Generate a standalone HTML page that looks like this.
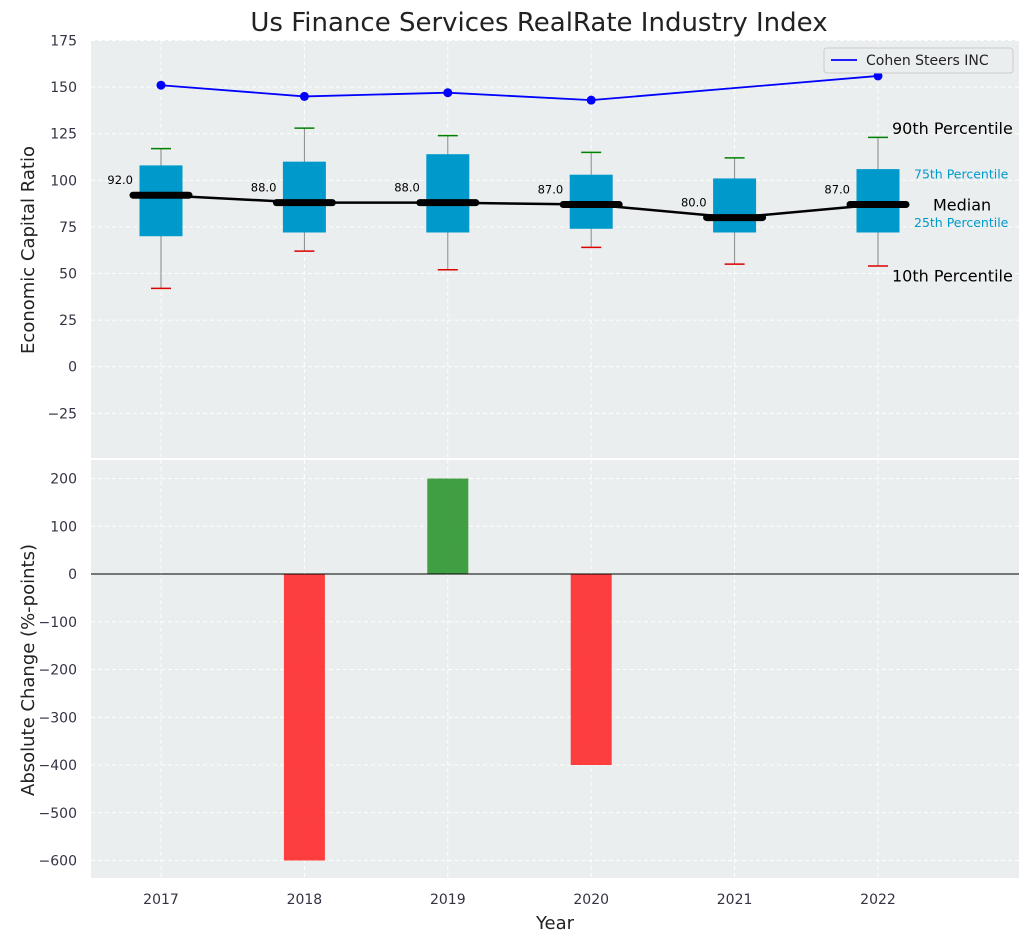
<!DOCTYPE html>
<html><head><meta charset="utf-8"><style>
body{margin:0;background:#fff;font-family:"Liberation Sans","DejaVu Sans",sans-serif}
svg text{font-family:"DejaVu Sans","Liberation Sans",sans-serif}
</style></head><body>
<svg id="c" width="1029" height="942" xmlns="http://www.w3.org/2000/svg"></svg>
<script>
const years=[2017,2018,2019,2020,2021,2022];
const cohen=[151,145,147,143,null,156];
const p10=[42,62,52,64,55,54];
const q1=[70,72,72,74,72,72];
const med=[92,88,88,87,80,87];
const q3=[108,110,114,103,101,106];
const p90=[117,128,124,115,112,123];
const changes=[0,-600,200,-400,0,0];
const topTicks=[-25,0,25,50,75,100,125,150,175];
const botTicks=[-600,-500,-400,-300,-200,-100,0,100,200];

const NS="http://www.w3.org/2000/svg";
const svg=document.getElementById('c');
function el(t,a,p){const e=document.createElementNS(NS,t);for(const k in a)e.setAttribute(k,a[k]);(p||svg).appendChild(e);return e;}
const X=v=>161+(v-2017)*143.4;
const YT=v=>366.7-v*(46.6/25);
const YB=v=>574-v*0.4775;

let bg1=el('rect',{x:91,y:40,width:928,height:418,fill:'#eaeeee'});

let bg2=el('rect',{x:91,y:460,width:928,height:418,fill:'#eaeeee'});


years.forEach(y=>{
  el('line',{x1:X(y),x2:X(y),y1:40,y2:458,stroke:'#fff','stroke-dasharray':'4,3'});
  el('line',{x1:X(y),x2:X(y),y1:460,y2:878,stroke:'#fff','stroke-dasharray':'4,3'});
  let t=el('text',{x:X(y),y:904,'text-anchor':'middle','font-size':14,fill:'#334'});t.textContent=y;
  
});
topTicks.forEach(v=>{
  el('line',{x1:91,x2:1019,y1:YT(v),y2:YT(v),stroke:'#fff','stroke-dasharray':'4,3'});
  let t=el('text',{x:77,y:YT(v)+5,'text-anchor':'end','font-size':14,fill:'#334'});t.textContent=v<0?'−'+(-v):v;
  
});
botTicks.forEach(v=>{
  el('line',{x1:91,x2:1019,y1:YB(v),y2:YB(v),stroke:'#fff','stroke-dasharray':'4,3'});
  let t=el('text',{x:77,y:YB(v)+5,'text-anchor':'end','font-size':14,fill:'#334'});t.textContent=v<0?'−'+(-v):v;
  
});

years.forEach((y,i)=>{
  const x=X(y);
  el('line',{x1:x,x2:x,y1:YT(p10[i]),y2:YT(p90[i]),stroke:'#888','stroke-width':1});
  let b=el('rect',{x:x-21.5,y:YT(q3[i]),width:43,height:YT(q1[i])-YT(q3[i]),fill:'#0099cc'});
  
  el('line',{x1:x-10,x2:x+10,y1:YT(p90[i]),y2:YT(p90[i]),stroke:'green','stroke-width':1.5});
  el('line',{x1:x-10,x2:x+10,y1:YT(p10[i]),y2:YT(p10[i]),stroke:'#d00','stroke-width':1.5});
});
let mp=years.map((y,i)=>X(y)+','+YT(med[i])).join(' ');
let ml=el('polyline',{points:mp,fill:'none',stroke:'#000','stroke-width':2.5});

years.forEach((y,i)=>{
  let m=el('line',{x1:X(y)-28,x2:X(y)+28,y1:YT(med[i]),y2:YT(med[i]),stroke:'#000','stroke-width':7,'stroke-linecap':'round'});
  
  let t=el('text',{x:X(y)-28,y:YT(med[i])-11,'text-anchor':'end','font-size':11.5,fill:'#000'});t.textContent=med[i].toFixed(1);
  
});
let cp=[];years.forEach((y,i)=>{if(cohen[i]!=null)cp.push(X(y)+','+YT(cohen[i]));});
let cl=el('polyline',{points:cp.join(' '),fill:'none',stroke:'#0000ff','stroke-width':1.8});

years.forEach((y,i)=>{if(cohen[i]!=null){let c=el('circle',{cx:X(y),cy:YT(cohen[i]),r:4.5,fill:'#0000ff'});
}});

const xa=X(2022);
[['90th Percentile',xa+14,YT(p90[5]+5)+6,16,'#000'],['75th Percentile',xa+36,YT(q3[5]-3)+4,12.5,'#0099cc'],['Median',xa+55,YT(med[5])+6,16,'#000'],['25th Percentile',xa+36,YT(q1[5]+5)+4,12.5,'#0099cc'],['10th Percentile',xa+14,YT(p10[5]-5)+6,16,'#000']].forEach(a=>{
  let t=el('text',{x:a[1],y:a[2],'font-size':a[3],fill:a[4]});t.textContent=a[0];
  
});

let lg=el('g',{});
el('rect',{x:824,y:48,width:189,height:25,fill:'#eaeeee',stroke:'#ccc',rx:3},lg);
el('line',{x1:831,x2:857,y1:60,y2:60,stroke:'#0000ff','stroke-width':1.8},lg);
let lt=el('text',{x:866,y:65,'font-size':14,fill:'#222'},lg);lt.textContent='Cohen Steers INC';

years.forEach((y,i)=>{
  const v=changes[i];if(v===0)return;
  let r=el('rect',{x:X(y)-20.5,y:Math.min(YB(v),YB(0)),width:41,height:Math.abs(YB(v)-YB(0)),fill:v>0?'#2e9530':'#ff2a2a','fill-opacity':0.9});
  
});
el('line',{x1:91,x2:1019,y1:YB(0),y2:YB(0),stroke:'#000','stroke-width':1});

let tt=el('text',{x:539,y:31,'text-anchor':'middle','font-size':26,fill:'#222'});tt.textContent='Us Finance Services RealRate Industry Index';

let xt=el('text',{x:555,y:929,'text-anchor':'middle','font-size':18,fill:'#222'});xt.textContent='Year';

let y1=el('text',{x:0,y:0,'text-anchor':'middle','font-size':18,fill:'#222',transform:'translate(34,250) rotate(-90)'});y1.textContent='Economic Capital Ratio';

let y2=el('text',{x:0,y:0,'text-anchor':'middle','font-size':18,fill:'#222',transform:'translate(34,670) rotate(-90)'});y2.textContent='Absolute Change (%-points)';

</script>
</body></html>
